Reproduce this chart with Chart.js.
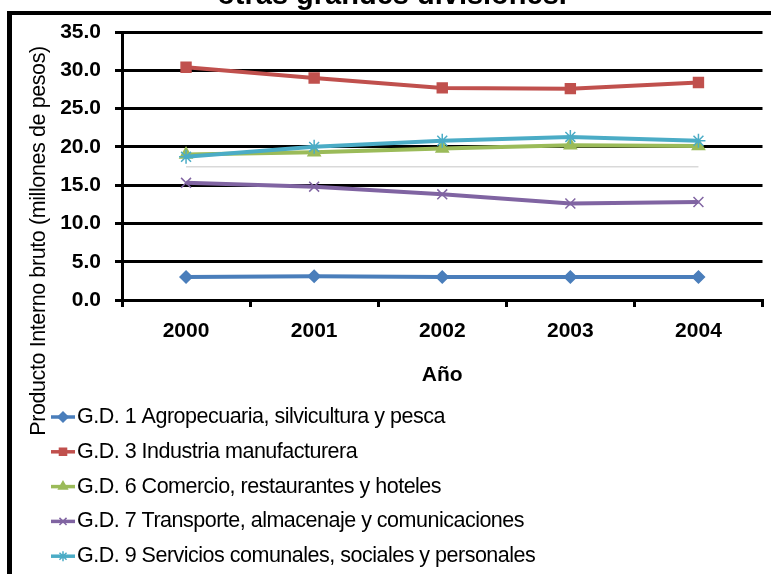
<!DOCTYPE html>
<html>
<head>
<meta charset="utf-8">
<script src="https://cdn.jsdelivr.net/npm/chart.js@4/dist/chart.umd.min.js"></script>
<style>
html,body{margin:0;padding:0;background:#fff;overflow:hidden}
canvas{display:block}
</style>
</head>
<body>
<canvas id="c" width="771" height="574"></canvas>
<script>
// ---- data ----
const years = ['2000', '2001', '2002', '2003', '2004'];
const seriesNames = [
  'G.D. 1 Agropecuaria, silvicultura y pesca',
  'G.D. 3 Industria manufacturera',
  'G.D. 6 Comercio, restaurantes y hoteles',
  'G.D. 7 Transporte, almacenaje y comunicaciones',
  'G.D. 9 Servicios comunales, sociales y personales'
];
const gd1 = [3.0, 3.1, 3.0, 3.0, 3.0];
const gd3 = [30.4, 29.0, 27.7, 27.6, 28.4];
const gd6 = [19.0, 19.3, 19.8, 20.2, 20.1];
const gd7 = [15.3, 14.8, 13.8, 12.6, 12.8];
const gd9 = [18.7, 20.0, 20.8, 21.3, 20.8];
const faintLine = [17.4, 17.4, 17.4, 17.4, 17.4];
const yTicks = [0, 5, 10, 15, 20, 25, 30, 35];
const chartTitle = 'otras grandes divisiones.';
const yTitle = 'Producto Interno bruto (millones de pesos)';
const xTitle = 'Año';

const FONT = "'Liberation Sans', Arial, sans-serif";

function series(label, data, color, style, radius, order) {
  return {
    label, data,
    borderColor: color, backgroundColor: color,
    pointBackgroundColor: color, pointBorderColor: color,
    pointStyle: style, pointRadius: radius, pointBorderWidth: 1.5,
    borderWidth: 4, tension: 0, order
  };
}

const datasets = [
  series(seriesNames[0], gd1, '#4a7ebb', 'rectRot', 6, 5),
  series(seriesNames[1], gd3, '#c0504d', 'rect', 7, 4),
  series(seriesNames[2], gd6, '#9bbb59', 'triangle', 7, 3),
  series(seriesNames[3], gd7, '#8064a2', 'crossRot', 7, 2),
  series(seriesNames[4], gd9, '#4bacc6', 'star', 7, 1),
  { data: faintLine, borderColor: '#d9d9d9', borderWidth: 1.5, pointRadius: 0, order: 10, noLegend: true }
];

const decor = {
  id: 'decor',
  afterDraw(chart) {
    const ctx = chart.ctx;
    ctx.save();
    // outer frame (cropped)
    ctx.fillStyle = '#000';
    ctx.fillRect(7, 11, 790, 4);
    ctx.fillRect(7, 11, 5, 590);
    // cropped main title
    ctx.font = `bold 29px ${FONT}`;
    ctx.textAlign = 'center';
    ctx.textBaseline = 'alphabetic';
    ctx.fillText(chartTitle, 392, 4);
    // y axis title
    ctx.save();
    ctx.translate(39, 241);
    ctx.rotate(-Math.PI / 2);
    ctx.font = `21.5px ${FONT}`;
    ctx.letterSpacing = '-0.4px';
    ctx.textBaseline = 'middle';
    ctx.fillText(yTitle, 0, 0);
    ctx.restore();
    // legend
    const items = chart.data.datasets.filter(d => !d.noLegend);
    items.forEach((ds, i) => {
      const y = 417 + i * 34.8;
      ctx.strokeStyle = ds.borderColor;
      ctx.lineWidth = 3.5;
      ctx.beginPath();
      ctx.moveTo(51, y);
      ctx.lineTo(75, y);
      ctx.stroke();
      ctx.fillStyle = ds.pointBackgroundColor;
      ctx.strokeStyle = ds.pointBorderColor;
      ctx.lineWidth = 1.5;
      Chart.helpers.drawPoint(ctx, { pointStyle: ds.pointStyle, radius: 5, rotation: 0, borderWidth: 1.5 }, 63, y);
      ctx.fillStyle = '#000';
      ctx.font = `21.5px ${FONT}`;
      ctx.letterSpacing = '-0.5px';
      ctx.textAlign = 'left';
      ctx.textBaseline = 'middle';
      ctx.fillText(ds.label, 77, y);
      ctx.letterSpacing = '0px';
    });
    ctx.restore();
  }
};

new Chart(document.getElementById('c'), {
  type: 'line',
  data: { labels: years, datasets },
  plugins: [decor],
  options: {
    responsive: false,
    animation: false,
    layout: { padding: { left: 0, top: 32, right: 3, bottom: 0 } },
    plugins: { legend: { display: false }, tooltip: { enabled: false }, title: { display: false } },
    scales: {
      x: {
        offset: true,
        grid: { offset: true, drawOnChartArea: false, drawTicks: true, tickLength: 7, color: '#000', lineWidth: 3 },
        border: { display: true, color: '#000', width: 3 },
        ticks: { color: '#000', font: { family: FONT, size: 21, weight: 'bold' }, padding: 12, maxRotation: 0 },
        title: { display: true, text: xTitle, color: '#000', font: { family: FONT, size: 21, weight: 'bold' }, padding: { top: 0, bottom: 186 } },
        afterFit(s) { s.height = 274; }
      },
      y: {
        min: 0, max: 35,
        afterBuildTicks(s) { s.ticks = yTicks.map(v => ({ value: v })); },
        ticks: { color: '#000', font: { family: FONT, size: 21, weight: 'bold' }, padding: 14, callback: v => Number(v).toFixed(1) },
        grid: { color: '#000', lineWidth: 3, tickLength: 7 },
        border: { color: '#000', width: 3 },
        afterFit(s) { s.width = 122; }
      }
    }
  }
});
</script>
</body>
</html>
